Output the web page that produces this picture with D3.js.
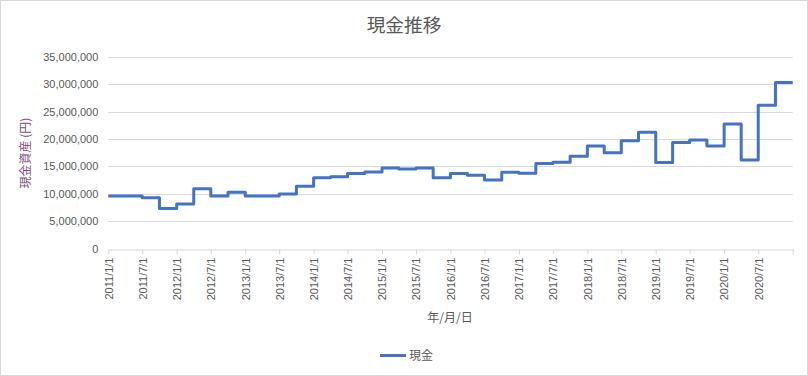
<!DOCTYPE html>
<html>
<head>
<meta charset="utf-8">
<script src="https://cdn.jsdelivr.net/npm/d3@7"></script>
<style>
  html, body { margin: 0; padding: 0; background: #fff; }
  svg { display: block; }
</style>
</head>
<body>
<svg id="chart" width="808" height="376"></svg>
<script>
// ---- data ----
const chartTitle = "現金推移";
const seriesName = "現金";
const yAxisTitle = "現金資産 (円)";
const xAxisTitle = "年/月/日";
const dates = [
  "2011/1/1","2011/4/1","2011/7/1","2011/10/1",
  "2012/1/1","2012/4/1","2012/7/1","2012/10/1",
  "2013/1/1","2013/4/1","2013/7/1","2013/10/1",
  "2014/1/1","2014/4/1","2014/7/1","2014/10/1",
  "2015/1/1","2015/4/1","2015/7/1","2015/10/1",
  "2016/1/1","2016/4/1","2016/7/1","2016/10/1",
  "2017/1/1","2017/4/1","2017/7/1","2017/10/1",
  "2018/1/1","2018/4/1","2018/7/1","2018/10/1",
  "2019/1/1","2019/4/1","2019/7/1","2019/10/1",
  "2020/1/1","2020/4/1","2020/7/1","2020/10/1"
];
const cash = [
  9600000, 9600000, 9250000, 7300000,
  8100000, 10900000, 9600000, 10250000,
  9600000, 9600000, 9950000, 11350000,
  12900000, 13100000, 13700000, 13950000,
  14700000, 14500000, 14700000, 12900000,
  13700000, 13350000, 12500000, 13900000,
  13750000, 15500000, 15750000, 16850000,
  18700000, 17450000, 19650000, 21200000,
  15700000, 19350000, 19800000, 18700000,
  22700000, 16150000, 26150000, 30300000
];
const xTickLabels = [
  "2011/1/1","2011/7/1","2012/1/1","2012/7/1","2013/1/1","2013/7/1",
  "2014/1/1","2014/7/1","2015/1/1","2015/7/1","2016/1/1","2016/7/1",
  "2017/1/1","2017/7/1","2018/1/1","2018/7/1","2019/1/1","2019/7/1",
  "2020/1/1","2020/7/1"
];
const xDomainLabels = ["2011/1/1", "2021/1/1"];
const yTicks = [0, 5000000, 10000000, 15000000, 20000000, 25000000, 30000000, 35000000];

// ---- drawing ----
(function () {
const parse = d3.utcParse("%Y/%m/%d");
const fmtNum = d3.format(",");
const latin = "'Liberation Sans', 'Noto Sans CJK JP', sans-serif";
const cjk = "'Noto Sans CJK JP', 'Liberation Sans', sans-serif";
const textCol = "#595959";
const gridCol = "#d9d9d9";

const svg = d3.select("#chart");
svg.append("rect").attr("x", 0.5).attr("y", 0.5).attr("width", 807).attr("height", 375)
  .attr("fill", "#fff").attr("stroke", gridCol).attr("stroke-width", 1);

const pLeft = 108.3, pRight = 792.7, pTop = 56.7, pBottom = 248.5;
const x = d3.scaleUtc().domain(xDomainLabels.map(parse)).range([pLeft, pRight]);
const y = d3.scaleLinear().domain([0, 35000000]).range([pBottom, pTop]);

// gridlines
svg.append("g").selectAll("line").data(yTicks.filter(d => d > 0)).join("line")
  .attr("x1", pLeft).attr("x2", pRight)
  .attr("y1", d => Math.round(y(d)) + 0.5).attr("y2", d => Math.round(y(d)) + 0.5)
  .attr("stroke", gridCol).attr("stroke-width", 1);

// y axis labels
const yAxis = d3.axisLeft(y).tickValues(yTicks).tickFormat(fmtNum).tickSize(0).tickPadding(10);
const gy = svg.append("g").attr("transform", `translate(${pLeft},0)`).call(yAxis);
gy.select(".domain").remove();
gy.selectAll("text").attr("fill", textCol).style("font-family", latin).style("font-size", "11px");

// x axis
const xTickVals = xTickLabels.map(parse).concat([parse(xDomainLabels[1])]);
const xAxis = d3.axisBottom(x).tickValues(xTickVals)
  .tickFormat((d, i) => i < xTickLabels.length ? xTickLabels[i] : "")
  .tickSize(5).tickSizeOuter(0);
const gx = svg.append("g").attr("transform", `translate(0,${Math.round(pBottom) + 0.5})`).call(xAxis);
gx.select(".domain").attr("stroke", gridCol);
gx.selectAll(".tick line").attr("stroke", gridCol);
gx.selectAll("text")
  .attr("fill", textCol).style("font-family", latin).style("font-size", "11px")
  .attr("transform", "rotate(-90)")
  .attr("text-anchor", "end")
  .attr("x", -8).attr("y", 0).attr("dy", "0.35em");

// line
const pts = dates.map((d, i) => ({ date: parse(d), v: cash[i] }));
const drawPts = pts.concat([{ date: parse(xDomainLabels[1]), v: cash[cash.length - 1] }]);
const line = d3.line().x(d => x(d.date)).y(d => y(d.v)).curve(d3.curveStepAfter);
svg.append("path").datum(drawPts).attr("d", line)
  .attr("fill", "none").attr("stroke", "#4472C4").attr("stroke-width", 3)
  .attr("stroke-linejoin", "round").attr("stroke-linecap", "butt");

// title
svg.append("text").attr("x", 404).attr("y", 25).attr("dy", "0.35em")
  .attr("text-anchor", "middle").attr("fill", textCol)
  .style("font-family", cjk).style("font-size", "18.7px").text(chartTitle);

// y axis title
svg.append("text").attr("transform", "translate(26,153) rotate(-90)")
  .attr("text-anchor", "middle").attr("dy", "0.35em").attr("fill", "#7b4e7b")
  .style("font-family", cjk).style("font-size", "12px").text(yAxisTitle);

// x axis title
svg.append("text").attr("x", 450).attr("y", 318).attr("dy", "0.35em")
  .attr("text-anchor", "middle").attr("fill", textCol)
  .style("font-family", cjk).style("font-size", "12px").text(xAxisTitle);

// legend
const lg = svg.append("g");
lg.append("line").attr("x1", 380).attr("x2", 406).attr("y1", 355.5).attr("y2", 355.5)
  .attr("stroke", "#4472C4").attr("stroke-width", 3);
lg.append("text").attr("x", 409).attr("y", 356).attr("dy", "0.35em")
  .attr("fill", textCol).style("font-family", cjk).style("font-size", "12px").text(seriesName);
})();
</script>
</body>
</html>
